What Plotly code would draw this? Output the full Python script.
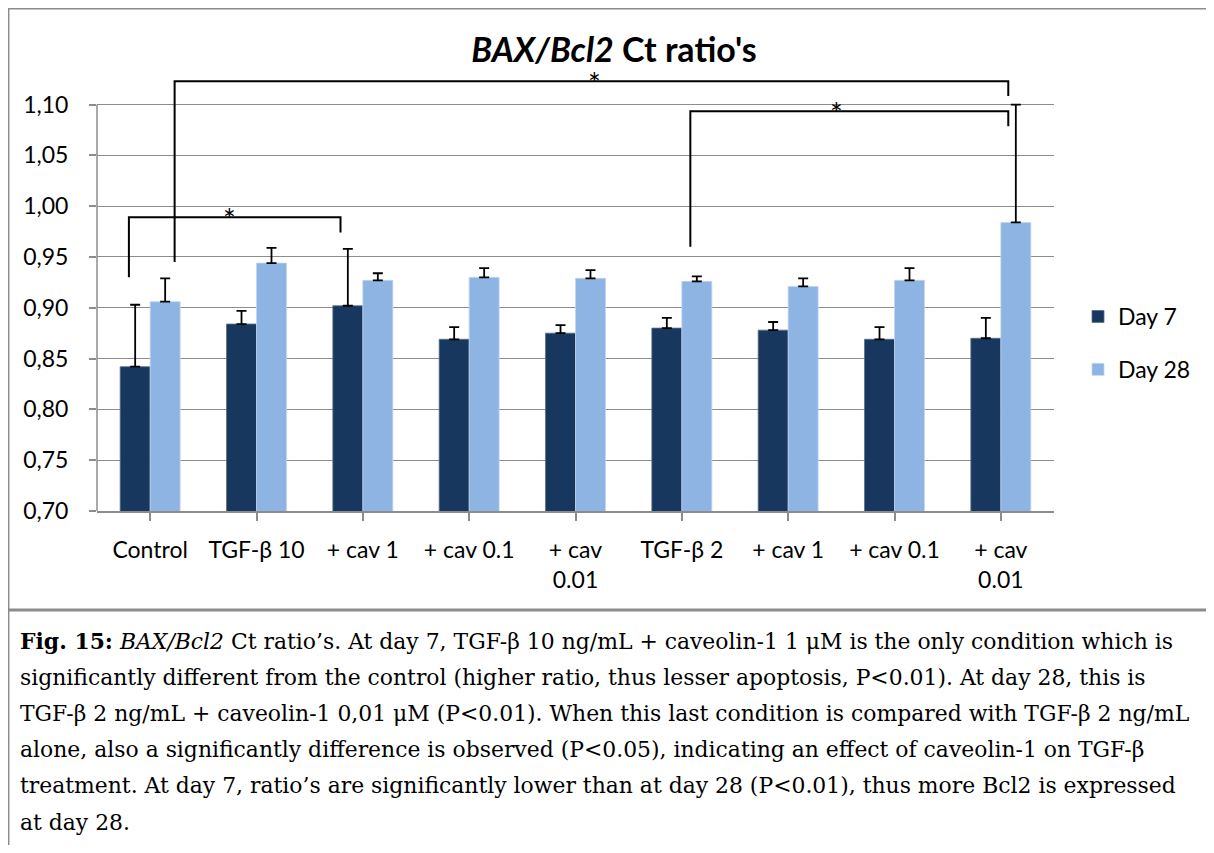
import plotly.graph_objects as go

categories = ["Control", "TGF-β 10", "+ cav 1", "+ cav 0.1", "+ cav<br>0.01",
              "TGF-β 2", "+ cav 1", "+ cav 0.1", "+ cav<br>0.01"]
day7 = [0.842, 0.884, 0.902, 0.869, 0.875, 0.880, 0.878, 0.869, 0.870]
day7_err = [0.061, 0.013, 0.056, 0.012, 0.008, 0.010, 0.008, 0.012, 0.020]
day28 = [0.906, 0.944, 0.927, 0.930, 0.929, 0.926, 0.921, 0.927, 0.984]
day28_err = [0.023, 0.015, 0.007, 0.009, 0.008, 0.005, 0.008, 0.012, 0.116]

# significance brackets: (x_left, y_left_end, x_right, y_right_end, y_top, star_x)
brackets = [
    (-0.20, 0.930, 1.79, 0.974, 0.989, 0.75),
    (0.23, 0.945, 8.07, 1.1085, 1.123, 4.18),
    (5.08, 0.960, 8.07, 1.0786, 1.0934, 6.45),
]

caption_lines = [
    "<b>Fig. 15:</b> <i>BAX/Bcl2</i> Ct ratio’s. At day 7, TGF-β 10 ng/mL + caveolin-1 1 μM is the only condition which is",
    "significantly different from the control (higher ratio, thus lesser apoptosis, P&lt;0.01). At day 28, this is",
    "TGF-β 2 ng/mL + caveolin-1 0,01 μM (P&lt;0.01). When this last condition is compared with TGF-β 2 ng/mL",
    "alone, also a significantly difference is observed (P&lt;0.05), indicating an effect of caveolin-1 on TGF-β",
    "treatment. At day 7, ratio’s are significantly lower than at day 28 (P&lt;0.01), thus more Bcl2 is expressed",
    "at day 28.",
]

FONT = "Lato"
DARK = "#17375E"
LIGHT = "#8EB4E3"
GRID = "#8C8C8C"

# page body has an 8px margin: work in page pixels and shift
O = 8
W, H = 1214 - 2 * O, 853 - 2 * O
px_l, px_r, py_t, py_b = 97 - O, 1054 - O, 69 - O, 511 - O


def xp(px):
    """page pixel x -> paper"""
    return (px - O - px_l) / (px_r - px_l)


def yp(py):
    """page pixel y -> paper"""
    return (py_b - (py - O)) / (py_b - py_t)


x = list(range(len(categories)))

fig = go.Figure()
fig.add_trace(go.Bar(
    x=x, y=day7, name="Day 7", legendgroup="a",
    marker=dict(color=DARK, line=dict(color="#5A6F88", width=0.8)),
    error_y=dict(type="data", symmetric=False, array=day7_err,
                 arrayminus=[0] * len(day7), color="black", thickness=1.8, width=5),
))
fig.add_trace(go.Bar(
    x=x, y=day28, name="Day 28", legendgroup="b",
    marker=dict(color=LIGHT, line=dict(color="#C3D5EC", width=0.8)),
    error_y=dict(type="data", symmetric=False, array=day28_err,
                 arrayminus=[0] * len(day28), color="black", thickness=1.8, width=5),
))

shapes = []
annotations = []
for xl, yl, xr, yr, yt, sx in brackets:
    shapes.append(dict(type="path", xref="x", yref="y",
                       path=f"M{xl},{yl} L{xl},{yt} L{xr},{yt} L{xr},{yr}",
                       line=dict(color="black", width=2)))
    annotations.append(dict(x=sx, y=yt, xref="x", yref="y", text="*",
                            showarrow=False, yanchor="middle", yshift=-2,
                            font=dict(family=FONT, size=30, color="black")))

# y axis line (only up to 1,10)
shapes.append(dict(type="line", xref="paper", yref="y", x0=0, x1=0, y0=0.70, y1=1.10,
                   line=dict(color=GRID, width=1.5)))

# frames
shapes.append(dict(type="rect", xref="paper", yref="paper",
                   x0=xp(8.7), x1=xp(1240), y0=yp(610), y1=yp(8.7),
                   line=dict(color="#8C8C8C", width=1.5)))
shapes.append(dict(type="line", xref="paper", yref="paper",
                   x0=xp(8), x1=xp(1240), y0=yp(610), y1=yp(610),
                   line=dict(color="#8C8C8C", width=3)))
shapes.append(dict(type="line", xref="paper", yref="paper",
                   x0=xp(8.7), x1=xp(8.7), y0=yp(610), y1=yp(900),
                   line=dict(color="#8C8C8C", width=1.5)))

for i, t in enumerate(caption_lines):
    annotations.append(dict(x=xp(18), y=yp(641 + 36.2 * i), xref="paper", yref="paper",
                            text=t, showarrow=False, xanchor="left", yanchor="middle",
                            font=dict(family="DejaVu Serif", size=21.9, color="black")))

fig.update_layout(
    width=W, height=H,
    margin=dict(l=px_l, r=W - px_r, t=py_t, b=H - py_b, pad=0, autoexpand=False),
    paper_bgcolor="white", plot_bgcolor="white",
    font=dict(family=FONT, size=23, color="black"),
    separators=",.",
    title=dict(text="<b><i>BAX/Bcl2</i> Ct ratio's</b>", x=(614 - O) / W, xanchor="center",
               xref="container", yref="container", y=1 - (50 - O) / H, yanchor="middle",
               font=dict(family=FONT, size=34, color="black")),
    barmode="group", bargap=0.436, bargroupgap=0,
    legend=dict(x=xp(1078), xanchor="left", y=yp(343), yanchor="middle",
                font=dict(family=FONT, size=23), tracegroupgap=20,
                bgcolor="rgba(0,0,0,0)"),
    xaxis=dict(range=[-0.5, len(categories) - 0.5], tickmode="array", tickvals=x,
               ticktext=categories, ticks="outside", tickson="boundaries", ticklen=8,
               tickcolor=GRID, tickwidth=1.5, showline=True, linecolor=GRID, linewidth=1.5,
               showgrid=False, ticklabelstandoff=10, tickfont=dict(size=23),
               automargin=False),
    yaxis=dict(range=[0.70, 1.135], tick0=0.70, dtick=0.05, tickformat=".2f",
               ticks="outside", ticklen=7, tickcolor=GRID, tickwidth=1.5,
               showgrid=True, gridcolor=GRID, gridwidth=1.3, showline=False,
               zeroline=False, ticklabelstandoff=16, tickfont=dict(size=23),
               automargin=False),
    shapes=shapes, annotations=annotations,
    showlegend=True,
)

fig.write_html("out.html")
